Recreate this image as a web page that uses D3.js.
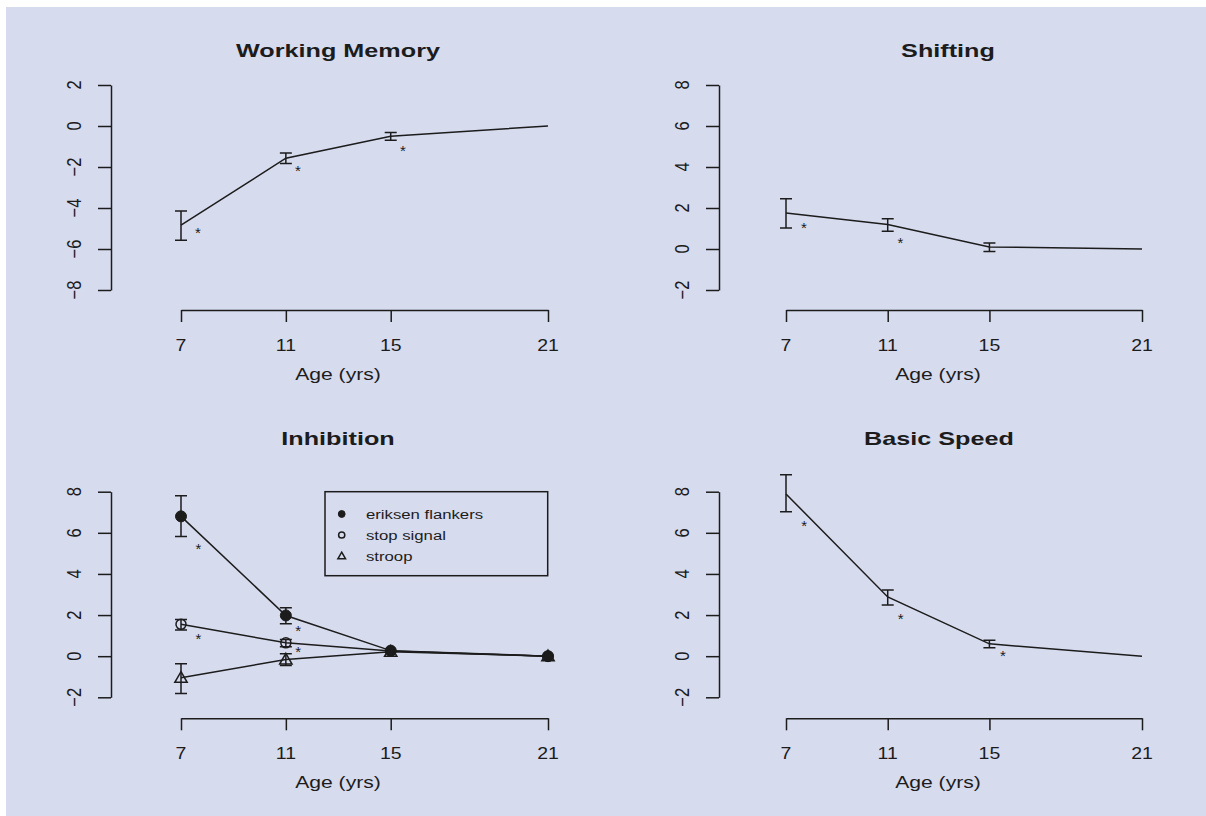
<!DOCTYPE html>
<html>
<head>
<meta charset="utf-8">
<script src="https://cdn.jsdelivr.net/npm/d3@7"></script>
<style>
  html, body { margin: 0; padding: 0; background: #ffffff; }
  svg { display: block; }
</style>
</head>
<body>
<svg id="chart" width="1206" height="816"></svg>
<script>
// ---- data -------------------------------------------------------------
const ages = [7, 11, 15, 21];
const ageTicks = [7, 11, 15, 21];
const wmTicks = [-8, -6, -4, -2, 0, 2];
const scoreTicks = [-2, 0, 2, 4, 6, 8];
const panelTitles = ["Working Memory", "Shifting", "Inhibition", "Basic Speed"];
const xLabel = "Age (yrs)";
const legendLabels = ["eriksen flankers", "stop signal", "stroop"];

// Working memory
const wmMean = [-4.84, -1.57, -0.5, 0];
const wmLow  = [-5.57, -1.83, -0.7, null];
const wmHigh = [-4.15, -1.32, -0.32, null];
const wmStarAge = [7.65, 11.46, 15.47];
const wmStarValue = [-5.04, -2.01, -1.04];

// Shifting
const shiftMean = [1.76, 1.19, 0.1, 0];
const shiftLow  = [1.02, 0.86, -0.12, null];
const shiftHigh = [2.45, 1.48, 0.29, null];
const shiftStarAge = [7.7, 11.5];
const shiftStarValue = [1.22, 0.49];

// Inhibition: three tasks
const eriksenMean = [6.8, 1.98, 0.27, 0];
const eriksenLow  = [5.82, 1.58, null, null];
const eriksenHigh = [7.8, 2.36, null, null];
const stopMean = [1.55, 0.65, 0.25, 0];
const stopLow  = [1.27, 0.46, null, null];
const stopHigh = [1.79, 0.81, null, null];
const stroopMean = [-1.05, -0.16, 0.22, 0];
const stroopLow  = [-1.82, -0.45, null, null];
const stroopHigh = [-0.37, 0.12, null, null];
const inhibStarAge = [7.66, 7.66, 11.47, 11.47];
const inhibStarValue = [5.37, 1.01, 1.39, 0.38];

// Basic speed
const speedMean = [7.89, 2.88, 0.6, 0];
const speedLow  = [7.02, 2.49, 0.41, null];
const speedHigh = [8.83, 3.22, 0.77, null];
const speedStarAge = [7.71, 11.51, 15.53];
const speedStarValue = [6.5, 1.99, 0.17];

// ---- drawing -----------------------------------------------------------
const svg = d3.select("#chart");
const INK = "#1c1c1c";
const FONT = "'Liberation Sans', Arial, Helvetica, sans-serif";

svg.append("rect")
  .attr("x", 6).attr("y", 7)
  .attr("width", 1200).attr("height", 809)
  .attr("fill", "#d6dbee");

// text helper: horizontally widened glyphs, optional rotation
function label(g, x, y, str, o) {
  const t = g.append("text")
    .attr("transform", `translate(${x},${y}) scale(${o.sx || 1},1)` + (o.rotate ? ` rotate(${o.rotate})` : ""))
    .attr("text-anchor", o.anchor || "middle")
    .attr("font-family", FONT)
    .attr("font-size", o.size)
    .attr("font-weight", o.bold ? "bold" : "normal")
    .attr("fill", INK)
    .text(str);
  if (o.dy) t.attr("dy", o.dy);
  return t;
}

const frames = [
  { yAxisX: 111, xr: [181, 548],  yr: [290, 85],      axisY: 310,   titleX: 338, titleY: 57,  labelX: 338 },
  { yAxisX: 719, xr: [786, 1142], yr: [290, 85],      axisY: 310,   titleX: 948, titleY: 57,  labelX: 938 },
  { yAxisX: 111, xr: [181, 548],  yr: [697.3, 491.7], axisY: 718.3, titleX: 338, titleY: 445, labelX: 338 },
  { yAxisX: 719, xr: [786, 1142], yr: [697.3, 491.7], axisY: 718.3, titleX: 939, titleY: 445, labelX: 938 }
];

function drawPanel(f, title, yTicks, series, starAge, starValue) {
  const g = svg.append("g");
  const x = d3.scaleLinear().domain([7, 21]).range(f.xr);
  const y = d3.scaleLinear().domain([yTicks[0], yTicks[yTicks.length - 1]]).range(f.yr);

  // axes
  const xa = g.append("g").attr("transform", `translate(0,${f.axisY})`)
    .call(d3.axisBottom(x).tickValues(ageTicks).tickSize(12).tickSizeOuter(0));
  const ya = g.append("g").attr("transform", `translate(${f.yAxisX},0)`)
    .call(d3.axisLeft(y).tickValues(yTicks).tickSize(13).tickSizeOuter(0));
  [xa, ya].forEach(a => {
    a.selectAll("text").remove();
    a.selectAll("path, line").attr("stroke", INK).attr("stroke-width", 1.5);
  });
  ageTicks.forEach(v => label(g, x(v), f.axisY + 41, String(v), { size: 16.5, sx: 1.18 }));
  yTicks.forEach(v => label(g, f.yAxisX - 37, y(v), String(v).replace("-", "\u2212"),
    { size: 16.5, sx: 1.18, rotate: -90, dy: "0.36em" }));

  label(g, f.titleX, f.titleY, title, { size: 17.5, sx: 1.44, bold: true });
  label(g, f.labelX, f.axisY + 70, xLabel, { size: 16.5, sx: 1.28 });

  const line = d3.line().x((d, i) => x(ages[i])).y(d => y(d));

  series.forEach(s => {
    g.append("path").datum(s.mean)
      .attr("d", line).attr("fill", "none")
      .attr("stroke", INK).attr("stroke-width", 1.5);
    ages.forEach((a, i) => {
      if (s.low[i] == null) return;
      const cx = x(a), y0 = y(s.low[i]), y1 = y(s.high[i]);
      g.append("path")
        .attr("d", `M${cx},${y0}V${y1}M${cx - 6},${y0}H${cx + 6}M${cx - 6},${y1}H${cx + 6}`)
        .attr("fill", "none").attr("stroke", INK).attr("stroke-width", 1.5);
    });
  });
  series.forEach(s => {
    if (!s.marker) return;
    ages.forEach((a, i) => drawMarker(g, s.marker, x(a), y(s.mean[i]), 1));
  });

  starAge.forEach((a, i) => {
    label(g, x(a), y(starValue[i]), "*", { size: 15, dy: "0.57em" });
  });
  return { g, x, y };
}

function drawMarker(g, kind, cx, cy, k) {
  if (kind === "filled") {
    g.append("circle").attr("cx", cx).attr("cy", cy).attr("r", 5.5 * k)
      .attr("fill", INK).attr("stroke", INK).attr("stroke-width", 1);
  } else if (kind === "open") {
    g.append("circle").attr("cx", cx).attr("cy", cy).attr("r", 5 * k)
      .attr("fill", "none").attr("stroke", INK).attr("stroke-width", 1.5);
  } else {
    g.append("path")
      .attr("transform", `translate(${cx},${cy + 1 * k})`)
      .attr("d", d3.symbol().type(d3.symbolTriangle).size(66 * k * k)())
      .attr("fill", "none").attr("stroke", INK).attr("stroke-width", 1.5);
  }
}

drawPanel(frames[0], panelTitles[0], wmTicks,
  [{ mean: wmMean, low: wmLow, high: wmHigh }], wmStarAge, wmStarValue);
drawPanel(frames[1], panelTitles[1], scoreTicks,
  [{ mean: shiftMean, low: shiftLow, high: shiftHigh }], shiftStarAge, shiftStarValue);
const inhib = drawPanel(frames[2], panelTitles[2], scoreTicks, [
  { mean: eriksenMean, low: eriksenLow, high: eriksenHigh, marker: "filled" },
  { mean: stopMean, low: stopLow, high: stopHigh, marker: "open" },
  { mean: stroopMean, low: stroopLow, high: stroopHigh, marker: "triangle" }
], inhibStarAge, inhibStarValue);
drawPanel(frames[3], panelTitles[3], scoreTicks,
  [{ mean: speedMean, low: speedLow, high: speedHigh }], speedStarAge, speedStarValue);

// legend for the inhibition tasks
const lg = inhib.g.append("g");
lg.append("rect").attr("x", 325).attr("y", 491.7).attr("width", 222.7).attr("height", 84)
  .attr("fill", "none").attr("stroke", INK).attr("stroke-width", 1.5);
const legendKinds = ["filled", "open", "triangle"];
legendLabels.forEach((t, i) => {
  const cy = 514 + i * 21;
  drawMarker(lg, legendKinds[i], 341.7, cy, 0.62);
  label(lg, 366, cy + 5, t, { size: 13.5, sx: 1.24, anchor: "start" });
});
</script>
</body>
</html>
